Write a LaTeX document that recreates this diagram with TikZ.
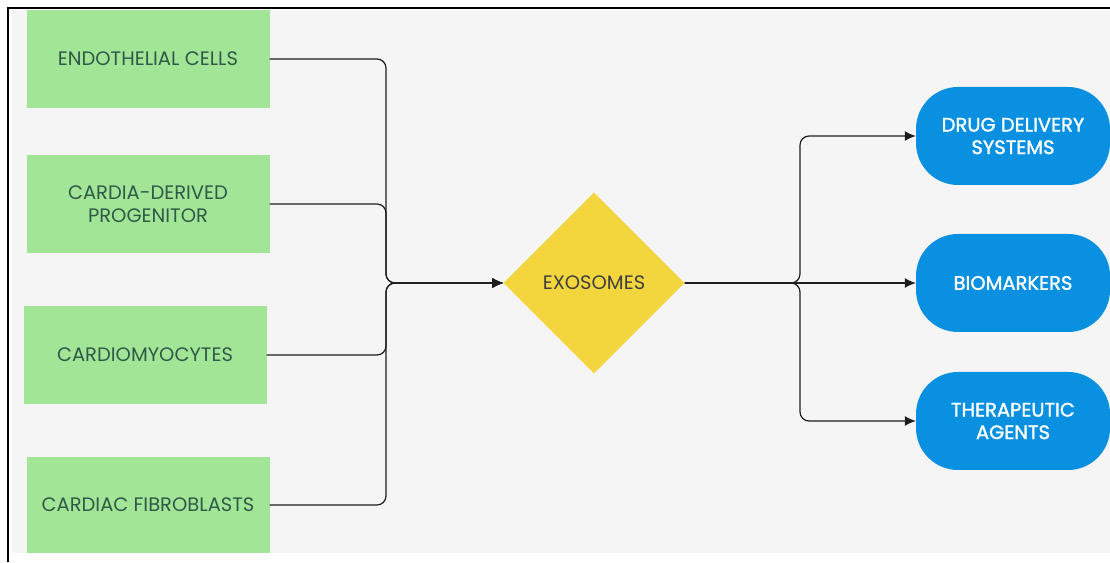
\documentclass[tikz,border=0pt]{standalone}
\usepackage{fontspec}
\setmainfont{Poppins}
\newfontfamily\popsemi[FakeBold=1.4]{Poppins}
\usetikzlibrary{shapes.geometric,arrows.meta,positioning}
\definecolor{pagegrey}{HTML}{F5F5F5}
\definecolor{cellgreen}{HTML}{A3E597}
\definecolor{celltext}{HTML}{2F5A48}
\definecolor{hubyellow}{HTML}{F3D63E}
\definecolor{hubtext}{HTML}{3F3F3F}
\definecolor{appblue}{HTML}{0A90E1}
\definecolor{linkblack}{HTML}{1E1E1E}
\begin{document}
\begin{tikzpicture}[x=1pt, y=1pt, node distance={150pt},
    cell/.style = {fill=cellgreen, minimum width=243pt, minimum height=98pt, inner sep=0pt, align=center, text=celltext, font=\fontsize{19.5}{22.5}\selectfont},
    hub/.style = {diamond, fill=hubyellow, minimum width=181pt, minimum height=181pt, inner sep=0pt, text=hubtext, font=\fontsize{19.5}{22.5}\selectfont},
    app/.style = {fill=appblue, rounded corners=42pt, minimum width=194pt, minimum height=98pt, inner sep=0pt, align=center, text=white, font=\popsemi\fontsize{19.5}{22.5}\selectfont},
    link/.style = {draw=linkblack, line width=1.2pt, rounded corners=9pt, -{Latex[length=11pt,width=10pt]}}]

    \useasboundingbox (0,0) rectangle (1110,562);
    \fill[pagegrey] (12,9) rectangle (1110,552);
    \draw[line width=1.6pt] (8,0) -- (8,554) -- (1110,554);

    \node[cell] (1) at (148,503) {ENDOTHELIAL CELLS};
    \node[cell] (2) [below of=1, node distance=145pt] {CARDIA-DERIVED\\PROGENITOR};
    \node[cell] (3) [below of=2, node distance=151pt, xshift=-3pt] {CARDIOMYOCYTES};
    \node[cell, minimum height=96pt] (4) [below of=3, xshift=3pt] {CARDIAC FIBROBLASTS};

    \node[hub] (5) at (594,279) {EXOSOMES};

    \node[app] (6) at (1013,426) {DRUG DELIVERY\\SYSTEMS};
    \node[app] (7) at (1013,279) {BIOMARKERS};
    \node[app] (8) at (1013,141) {THERAPEUTIC\\AGENTS};

    \coordinate (in) at (386,279);
    \coordinate (out) at (800,279);

    \draw[link] (1.east) -| (in) -- (5.west);
    \draw[link] (2.east) -| (in) -- (5.west);
    \draw[link] (3.east) -| (in) -- (5.west);
    \draw[link] (4.east) -| (in) -- (5.west);

    \draw[link] (5.east) -- (out) |- (6.west);
    \draw[link] (5.east) -- (7.west);
    \draw[link] (5.east) -- (out) |- (8.west);
\end{tikzpicture}
\end{document}
